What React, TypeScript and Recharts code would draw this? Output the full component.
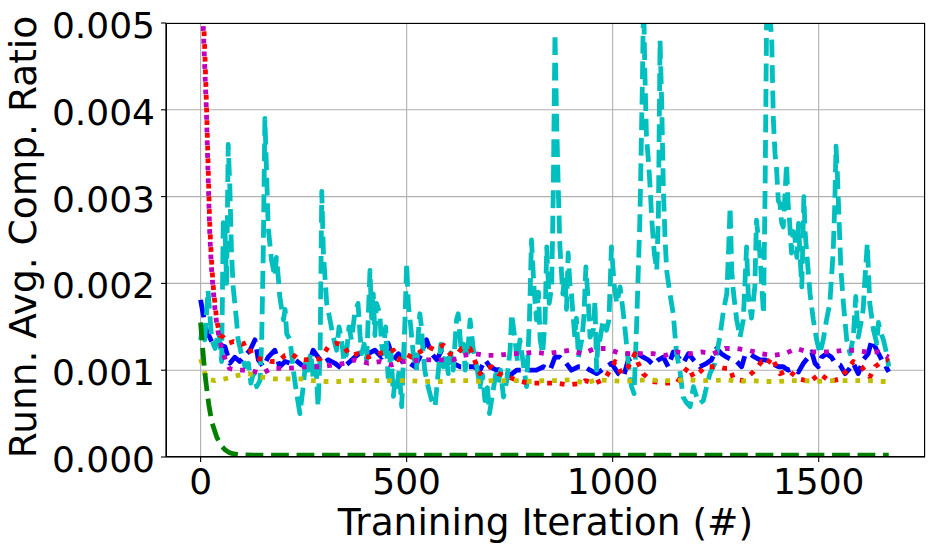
import { LineChart, Line, XAxis, YAxis, CartesianGrid, Label } from 'recharts';

// values are in units of 1e-3, [iteration, ratio]
const blueSeries: [number, number][] = [
  [0, 1.81], [6, 1.65], [14, 1.46], [22, 1.38], [31, 1.29], [43, 1.3], [59, 1.27], [71, 1.08], [83, 1.15], [95, 1.1],
  [108, 1.17], [120, 1.23], [132, 1.35], [140, 1.12], [152, 1.04], [164, 1.15], [180, 1.23], [192, 1.04], [205, 1.1],
  [217, 1.08], [229, 1.12], [245, 1.06], [261, 1.04], [273, 1.23], [285, 1.15], [298, 1.08], [310, 1.12], [326, 1.08],
  [342, 1.02], [358, 1.08], [374, 1.15], [391, 1.21], [407, 1.19], [423, 1.23], [439, 1.15], [455, 1.31], [468, 1.12],
  [480, 1.19], [492, 1.08], [508, 1.08], [520, 1.04], [532, 1.15], [548, 1.35], [561, 1.19], [573, 1.12], [585, 1.23],
  [597, 1.15], [613, 1.08], [629, 1.04], [646, 1.04], [662, 1.04], [678, 1.0], [690, 1.12], [702, 1.04], [718, 1.0],
  [735, 1.02], [751, 0.94], [767, 1.0], [783, 1.0], [799, 1.0], [815, 1.0], [832, 1.04], [848, 1.0], [860, 1.15],
  [872, 1.15], [884, 1.1], [900, 1.0], [917, 1.04], [933, 1.04], [945, 1.0], [961, 0.96], [973, 1.0], [985, 1.04],
  [997, 1.08], [1014, 0.96], [1026, 0.92], [1038, 1.12], [1050, 1.15], [1062, 1.19], [1074, 1.15], [1086, 1.12],
  [1099, 1.06], [1111, 1.12], [1123, 1.15], [1135, 1.04], [1147, 1.21], [1159, 1.15], [1171, 1.08], [1184, 1.19],
  [1196, 1.12], [1212, 1.04], [1228, 1.08], [1240, 1.12], [1252, 1.25], [1264, 1.19], [1277, 1.15], [1289, 1.12],
  [1301, 1.1], [1313, 1.04], [1321, 1.17], [1333, 1.19], [1345, 1.15], [1357, 1.12], [1370, 1.12], [1386, 1.08],
  [1402, 1.04], [1414, 1.04], [1426, 1.0], [1438, 1.02], [1451, 0.98], [1463, 1.08], [1475, 1.15], [1483, 1.21],
  [1491, 1.08], [1499, 1.04], [1507, 1.15], [1519, 1.19], [1531, 1.15], [1540, 1.08], [1552, 1.06], [1564, 0.96],
  [1572, 1.0], [1584, 1.08], [1596, 0.96], [1608, 1.12], [1620, 1.19], [1629, 1.35], [1641, 1.23], [1653, 1.12],
  [1661, 1.06], [1670, 0.98],
];

const cyanSeries: [number, number][] = [
  [0, 1.35], [5, 1.5], [10, 1.35], [18, 1.92], [27, 1.35], [35, 1.25], [44, 1.45], [51, 1.1], [55, 2.7], [59, 2.65],
  [63, 2.0], [67, 3.6], [71, 3.1], [75, 2.35], [79, 1.96], [83, 1.77], [87, 1.58], [91, 1.35], [99, 1.19], [108, 1.04],
  [116, 1.08], [122, 0.85], [128, 0.96], [136, 0.81], [144, 0.88], [148, 1.3], [152, 2.35], [156, 3.9], [160, 3.3],
  [164, 2.65], [172, 2.27], [180, 2.08], [184, 2.3], [188, 2.1], [192, 1.85], [201, 1.58], [205, 1.7], [209, 1.42],
  [217, 1.35], [225, 1.0], [233, 0.73], [241, 0.5], [249, 0.81], [255, 1.1], [261, 1.0], [267, 1.2], [273, 0.92],
  [280, 1.05], [285, 0.58], [290, 1.19], [294, 3.06], [298, 2.35], [306, 1.77], [314, 1.58], [322, 1.38], [330, 1.23],
  [336, 1.5], [342, 1.35], [348, 1.1], [354, 1.19], [360, 1.5], [366, 1.35], [374, 1.65], [382, 1.77], [387, 1.4],
  [391, 1.19], [397, 1.3], [403, 1.12], [411, 2.15], [415, 1.6], [419, 1.88], [423, 1.4], [427, 1.77], [435, 1.65],
  [439, 1.3], [443, 1.19], [449, 1.5], [455, 0.92], [462, 1.2], [468, 0.7], [472, 0.9], [476, 0.81], [482, 1.0],
  [488, 0.58], [492, 1.1], [496, 1.58], [500, 2.23], [504, 1.77], [510, 1.5], [516, 1.19], [524, 1.0], [528, 1.4],
  [532, 1.65], [536, 1.5], [540, 1.2], [544, 1.0], [552, 0.81], [561, 0.65], [569, 0.58], [577, 1.0], [583, 1.3],
  [589, 1.04], [595, 1.2], [601, 0.96], [607, 1.2], [613, 1.0], [621, 1.58], [625, 1.65], [633, 1.19], [638, 1.3],
  [642, 1.0], [648, 1.2], [654, 1.58], [662, 1.23], [670, 1.04], [678, 0.81], [684, 0.95], [690, 0.65], [696, 0.8],
  [701, 0.5], [710, 0.77], [716, 0.95], [722, 0.85], [728, 1.0], [735, 0.69], [743, 0.88], [751, 1.23], [755, 1.65],
  [763, 1.35], [769, 1.1], [775, 1.35], [783, 1.08], [791, 0.81], [798, 1.58], [803, 2.5], [809, 1.96], [815, 1.58],
  [820, 1.9], [824, 1.35], [830, 1.19], [836, 1.58], [840, 2.42], [846, 1.77], [852, 1.96], [856, 3.1], [860, 4.88],
  [864, 3.88], [868, 3.1], [872, 2.42], [879, 1.88], [884, 2.1], [888, 1.7], [892, 2.35], [896, 2.0], [900, 1.88],
  [908, 1.38], [912, 1.6], [917, 1.15], [925, 1.35], [930, 1.6], [935, 2.19], [941, 1.77], [945, 1.38], [953, 1.46],
  [957, 1.8], [961, 1.0], [965, 1.4], [969, 1.35], [977, 1.58], [985, 1.46], [991, 1.58], [997, 2.42], [1004, 1.96],
  [1010, 1.77], [1018, 1.96], [1026, 1.65], [1032, 1.38], [1038, 1.08], [1046, 0.81], [1052, 0.73], [1058, 1.5],
  [1066, 2.73], [1072, 4.27], [1075, 5.3], [1078, 4.46], [1082, 3.7], [1087, 3.4], [1091, 3.1], [1095, 2.73],
  [1101, 2.35], [1107, 2.15], [1111, 2.8], [1115, 4.8], [1119, 4.08], [1123, 3.1], [1127, 2.54], [1131, 2.15],
  [1139, 1.88], [1147, 1.65], [1155, 1.19], [1163, 1.0], [1171, 0.69], [1180, 0.62], [1188, 0.58], [1196, 0.81],
  [1204, 0.69], [1212, 0.62], [1220, 0.65], [1228, 0.81], [1236, 0.96], [1248, 1.08], [1260, 1.38], [1269, 1.69],
  [1277, 1.88], [1281, 2.35], [1285, 2.88], [1289, 2.15], [1293, 1.9], [1301, 1.58], [1309, 1.38], [1317, 1.58],
  [1321, 2.0], [1325, 2.42], [1329, 1.88], [1337, 1.6], [1345, 1.96], [1349, 2.73], [1353, 2.54], [1357, 2.35],
  [1362, 1.96], [1366, 1.65], [1370, 3.1], [1374, 5.3], [1380, 5.2], [1386, 4.8], [1390, 3.88], [1394, 3.5],
  [1398, 3.3], [1402, 2.95], [1406, 2.92], [1410, 2.7], [1414, 2.65], [1418, 3.0], [1422, 3.38], [1426, 2.9],
  [1429, 2.73], [1434, 2.35], [1438, 2.6], [1442, 2.54], [1447, 2.3], [1451, 2.69], [1455, 2.3], [1459, 1.96],
  [1464, 3.0], [1467, 2.6], [1471, 2.35], [1479, 1.88], [1487, 1.58], [1495, 1.35], [1503, 1.19], [1511, 1.35],
  [1519, 1.58], [1527, 1.77], [1535, 2.35], [1539, 2.9], [1542, 3.58], [1545, 3.3], [1548, 2.92], [1554, 2.15],
  [1560, 1.77], [1568, 1.35], [1576, 1.19], [1584, 1.38], [1590, 1.85], [1596, 1.38], [1604, 1.58], [1608, 1.7],
  [1612, 2.04], [1618, 2.46], [1624, 1.77], [1633, 1.46], [1641, 1.31], [1645, 1.55], [1649, 1.46], [1657, 1.35],
  [1665, 1.19], [1670, 1.04],
];

const redSeries: [number, number][] = [
  [0, 9], [6, 5.2], [10, 4.7], [14, 4.1], [18, 3.4], [22, 2.7], [26, 2.3], [30, 2.0], [35, 1.75], [40, 1.55],
  [47, 1.4], [55, 1.38], [67, 1.31], [80, 1.33], [91, 1.31], [102, 1.3], [112, 1.32], [124, 1.19], [134, 1.15],
  [144, 1.13], [160, 1.12], [172, 1.1], [184, 1.1], [195, 1.13], [205, 1.17], [221, 1.19], [237, 1.13], [253, 1.12],
  [269, 1.13], [290, 1.13], [310, 1.27], [330, 1.31], [346, 1.29], [362, 1.17], [382, 1.19], [407, 1.15], [431, 1.19],
  [451, 1.21], [468, 1.23], [480, 1.12], [496, 1.19], [512, 1.15], [532, 1.21], [553, 1.27], [569, 1.23], [589, 1.29],
  [605, 1.19], [621, 1.17], [633, 1.25], [654, 1.25], [666, 1.1], [678, 0.96], [690, 1.02], [706, 1.04], [722, 0.96],
  [739, 0.94], [759, 0.9], [779, 0.87], [799, 0.85], [819, 0.85], [840, 0.85], [864, 0.85], [892, 0.83], [925, 0.85],
  [933, 0.88], [957, 0.85], [981, 0.9], [1006, 1.1], [1022, 0.96], [1038, 1.04], [1054, 1.19], [1062, 1.08],
  [1074, 0.96], [1095, 0.87], [1127, 0.85], [1155, 0.85], [1171, 0.96], [1184, 1.04], [1196, 0.92], [1212, 0.98],
  [1224, 1.04], [1240, 1.04], [1256, 1.04], [1273, 1.02], [1285, 1.02], [1293, 0.9], [1317, 0.88], [1341, 0.98],
  [1362, 1.1], [1374, 1.06], [1386, 1.15], [1406, 0.96], [1426, 1.0], [1451, 0.9], [1479, 0.87], [1503, 0.96],
  [1527, 0.87], [1552, 0.9], [1568, 1.0], [1584, 1.1], [1604, 1.04], [1624, 0.92], [1637, 1.04], [1653, 1.1],
  [1665, 1.12], [1670, 1.11],
];

const magentaSeries: [number, number][] = [
  [0, 9.5], [6, 5.0], [10, 4.5], [14, 4.0], [18, 3.27], [22, 2.6], [26, 2.2], [30, 1.95], [35, 1.7], [40, 1.5],
  [45, 1.38], [50, 1.28], [60, 1.12], [70, 1.02], [90, 1.0], [120, 1.0], [148, 0.96], [172, 1.02], [205, 1.02],
  [261, 1.04], [293, 1.04], [350, 1.08], [375, 1.12], [407, 1.08], [435, 1.1], [463, 1.06], [492, 1.1], [548, 1.12],
  [581, 1.12], [613, 1.12], [637, 1.17], [666, 1.19], [694, 1.17], [722, 1.17], [751, 1.19], [783, 1.19], [807, 1.21],
  [840, 1.19], [868, 1.21], [896, 1.23], [927, 1.19], [957, 1.25], [985, 1.25], [1014, 1.2], [1042, 1.19],
  [1070, 1.19], [1099, 1.19], [1127, 1.17], [1155, 1.21], [1188, 1.19], [1216, 1.21], [1244, 1.19], [1273, 1.25],
  [1301, 1.25], [1329, 1.23], [1362, 1.19], [1390, 1.17], [1418, 1.19], [1446, 1.25], [1475, 1.21], [1503, 1.21],
  [1531, 1.21], [1560, 1.23], [1588, 1.23], [1616, 1.21], [1645, 1.21], [1670, 1.15],
];

const yellowSeries: [number, number][] = [
  [0, 1.13], [6, 1.04], [14, 0.9], [35, 0.88], [59, 0.9], [91, 0.94], [116, 0.96], [148, 0.92], [180, 0.9],
  [213, 0.9], [245, 0.9], [273, 0.88], [302, 0.87], [334, 0.87], [366, 0.88], [399, 0.88], [427, 0.88], [455, 0.88],
  [492, 0.88], [553, 0.87], [585, 0.87], [617, 0.88], [646, 0.88], [678, 0.87], [710, 0.88], [743, 0.88],
  [775, 0.88], [803, 0.87], [836, 0.88], [868, 0.88], [900, 0.89], [933, 0.85], [961, 0.89], [993, 0.88],
  [1026, 0.87], [1054, 0.88], [1086, 0.89], [1119, 0.88], [1151, 0.88], [1180, 0.89], [1212, 0.88], [1244, 0.88],
  [1277, 0.89], [1305, 0.87], [1337, 0.88], [1370, 0.87], [1402, 0.87], [1430, 0.88], [1463, 0.88], [1495, 0.87],
  [1527, 0.88], [1560, 0.88], [1590, 0.88], [1620, 0.88], [1653, 0.87], [1670, 0.87],
];

const greenSeries: [number, number][] = [
  [0, 1.55], [5, 1.25], [10, 0.98], [15, 0.78], [20, 0.6], [25, 0.46], [30, 0.36], [40, 0.22], [50, 0.13],
  [60, 0.08], [70, 0.05], [80, 0.035], [100, 0.025], [130, 0.02], [1670, 0.02],
];

const xTicks = [0, 500, 1000, 1500];
const yTicks = [0, 0.001, 0.002, 0.003, 0.004, 0.005];

const toPoints = (s: [number, number][]) => s.map(([x, v]) => ({ x, y: v / 1000 }));

const FONT = '"DejaVu Sans", sans-serif';
const LW = 4.8;
const DASHED = '17.8 7.7';
const DOTTED = '4.8 7.9';

const YTick = (props: any) => (
  <text x={props.x} y={props.y} dy={15} textAnchor="end" fontFamily={FONT} fontSize={36} fill="#000">
    {Number(props.payload.value).toFixed(3)}
  </text>
);

const XTick = (props: any) => (
  <text x={props.x} y={props.y} dy={26} textAnchor="middle" fontFamily={FONT} fontSize={36} fill="#000">
    {props.payload.value}
  </text>
);

export default function App() {
  const series = [
    { key: 'blue', data: blueSeries, color: '#0000ff', dash: DASHED },
    { key: 'cyan', data: cyanSeries, color: '#00bfbf', dash: DASHED },
    { key: 'red', data: redSeries, color: '#ff0000', dash: DOTTED },
    { key: 'magenta', data: magentaSeries, color: '#bf00bf', dash: DOTTED },
    { key: 'yellow', data: yellowSeries, color: '#bfbf00', dash: DOTTED },
    { key: 'green', data: greenSeries, color: '#008000', dash: DASHED },
  ];

  return (
    <div style={{ position: 'absolute', left: 0, top: 0, width: 934, height: 553, background: '#fff' }}>
      <LineChart width={934} height={553} margin={{ top: 23, right: 9, left: 0, bottom: 0 }}>
        <CartesianGrid stroke="#b0b0b0" strokeWidth={1.1} />
        <XAxis
          dataKey="x"
          type="number"
          domain={[-84, 1758]}
          ticks={xTicks}
          allowDataOverflow
          height={96}
          tickSize={5}
          tickMargin={6}
          tick={XTick}
          stroke="#000"
          axisLine={{ stroke: '#000', strokeWidth: 1.1 }}
          tickLine={{ stroke: '#000', strokeWidth: 1.1 }}
        >
          <Label
            content={(p: any) => (
              <text
                x={p.viewBox.x + p.viewBox.width / 2}
                y={535}
                textAnchor="middle"
                fontFamily={FONT}
                fontSize={37.5}
                fill="#000"
              >
                Tranining Iteration (#)
              </text>
            )}
          />
        </XAxis>
        <YAxis
          type="number"
          domain={[0, 0.005]}
          ticks={yTicks}
          allowDataOverflow
          width={166}
          tickSize={5}
          tickMargin={6}
          tick={YTick}
          axisLine={{ stroke: '#000', strokeWidth: 1.1 }}
          tickLine={{ stroke: '#000', strokeWidth: 1.1 }}
        >
          <Label
            content={() => (
              <text
                x={36}
                y={237}
                transform="rotate(-90, 36, 237)"
                textAnchor="middle"
                fontFamily={FONT}
                fontSize={37.5}
                fill="#000"
              >
                Runn. Avg. Comp. Ratio
              </text>
            )}
          />
        </YAxis>
        {series.map(s => (
          <Line
            key={s.key}
            data={toPoints(s.data)}
            dataKey="y"
            type="linear"
            stroke={s.color}
            strokeWidth={LW}
            strokeDasharray={s.dash}
            strokeLinecap="butt"
            strokeLinejoin="round"
            dot={false}
            activeDot={false}
            isAnimationActive={false}
          />
        ))}
      </LineChart>
      <div
        style={{
          position: 'absolute',
          left: 166,
          top: 23,
          width: 759,
          height: 434,
          border: '1.1px solid #000',
          boxSizing: 'border-box',
          pointerEvents: 'none',
        }}
      />
    </div>
  );
}
